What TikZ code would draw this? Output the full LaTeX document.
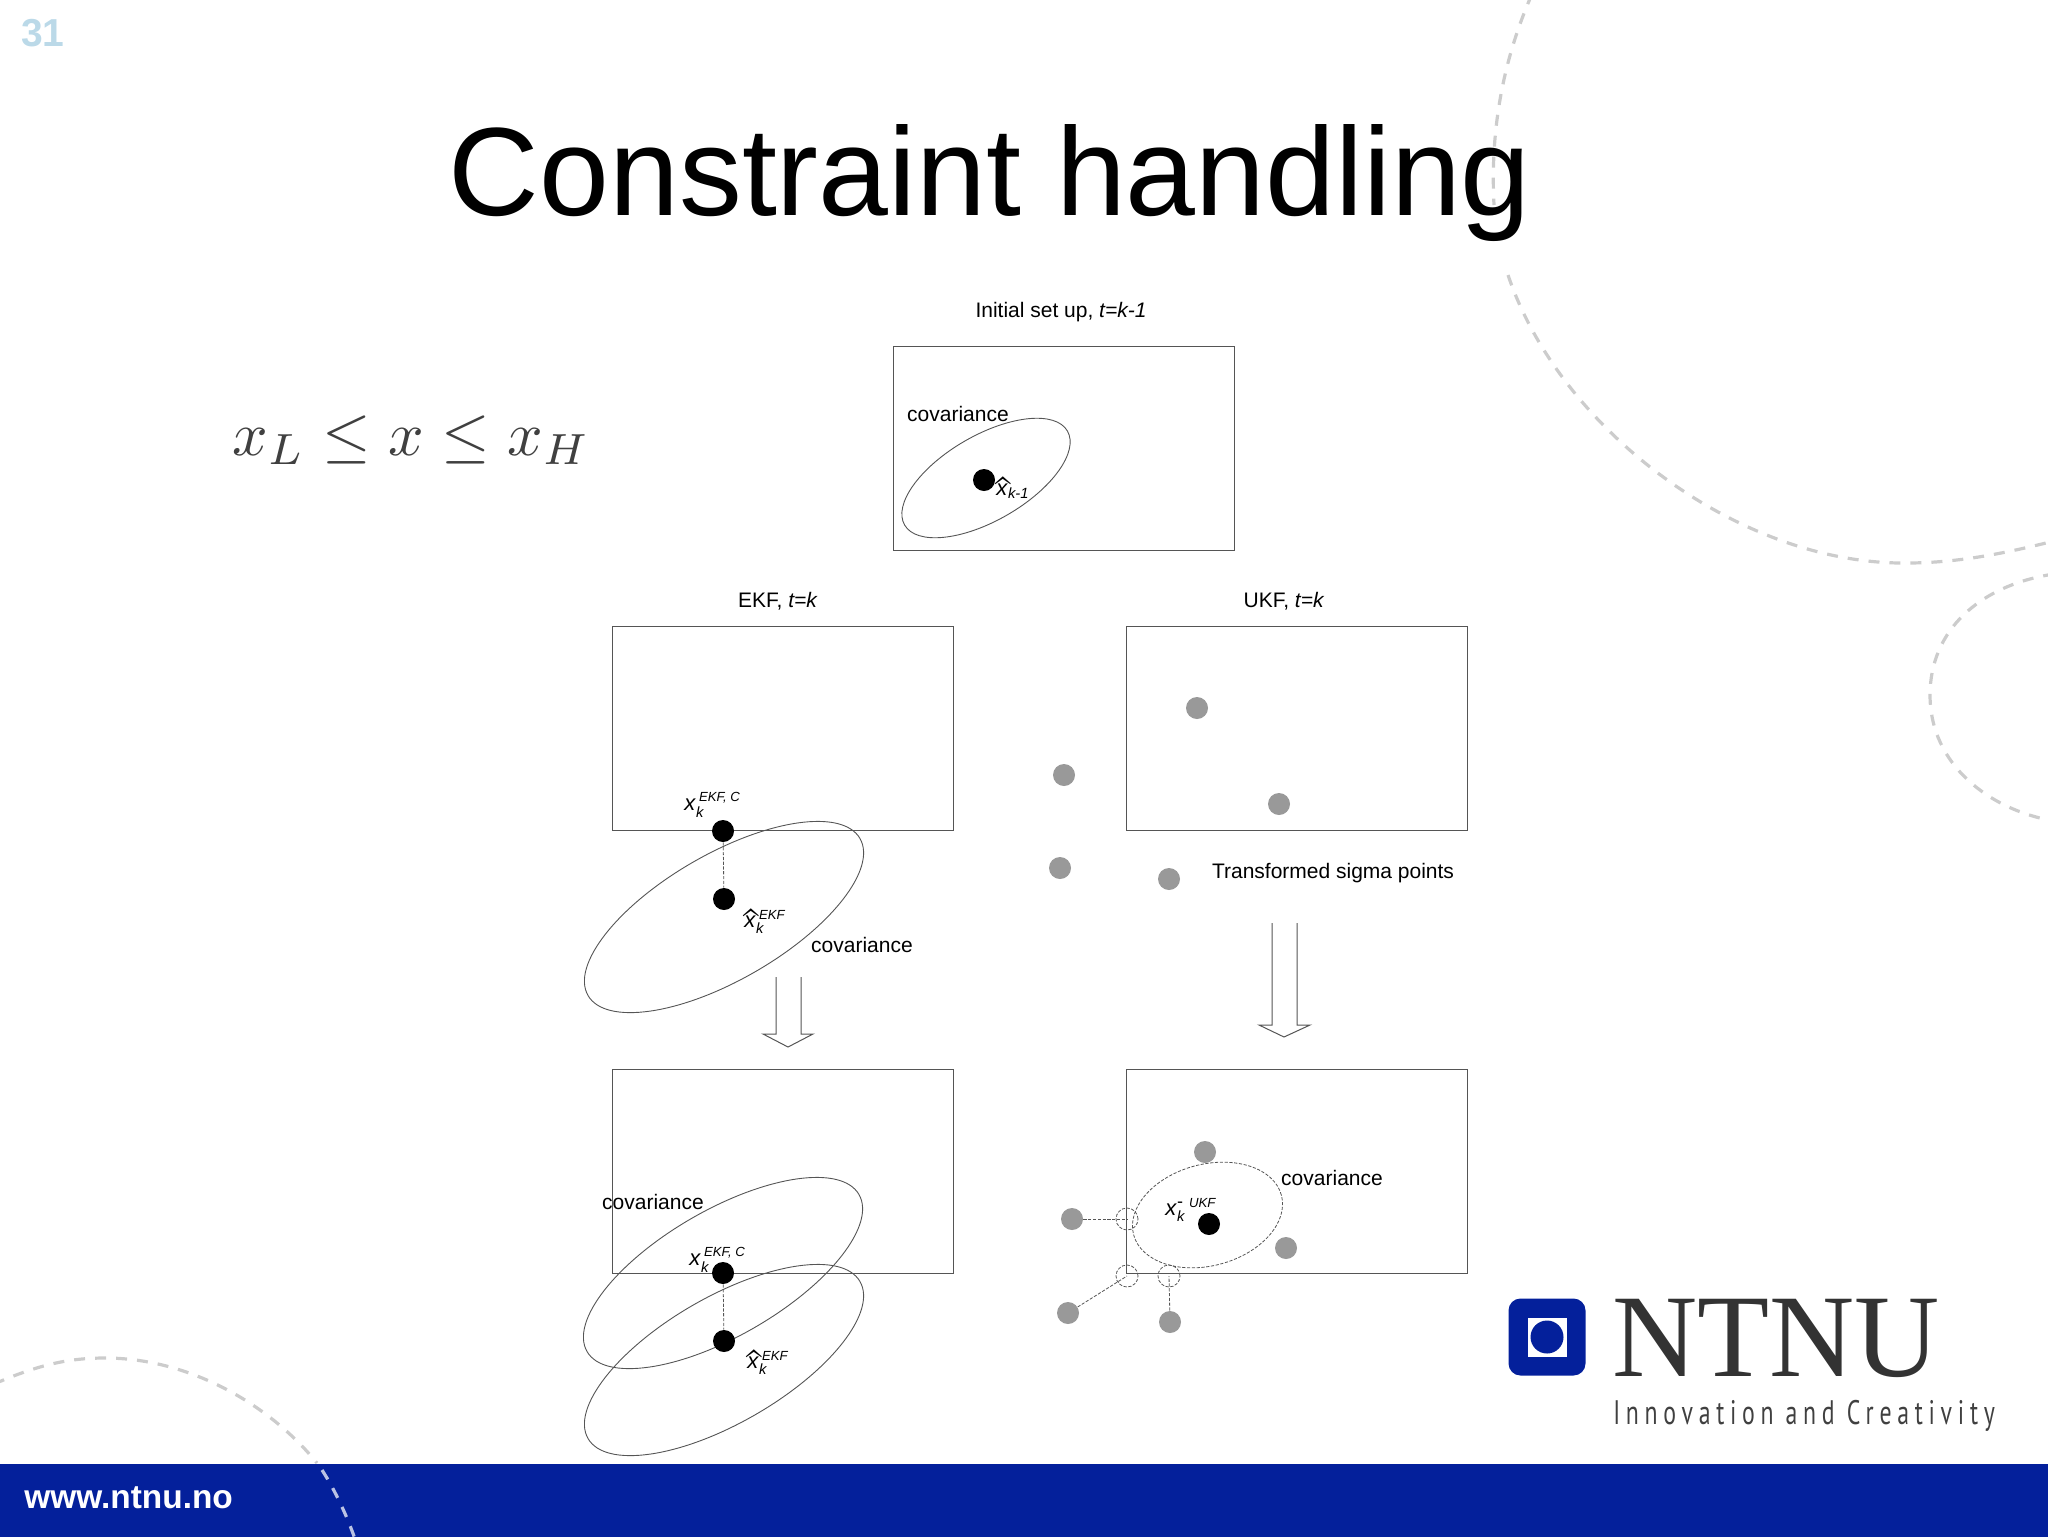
\documentclass[tikz,border=0pt]{standalone}
\usepackage{amsmath}
\usepackage{fontspec}
\setmainfont{Liberation Sans}
\newfontfamily\sloganfont[LetterSpace=24]{PT Sans}
\newfontfamily\logofont{Liberation Serif}
\usepackage{xcolor}
\usepackage{tikz}
\usetikzlibrary{shapes.geometric}

\definecolor{ntnublue}{HTML}{04209B}
\definecolor{boxgray}{HTML}{555555}
\definecolor{pointgray}{HTML}{999999}
\definecolor{swirlgray}{HTML}{CCCCCC}
\definecolor{swirlblue}{HTML}{BAC2E4}
\definecolor{numberblue}{HTML}{BBD9E8}

\newcommand{\subtxt}[1]{\hbox{\fontsize{7.4}{8}\selectfont\textit{#1}}}
\newcommand{\suptxt}[1]{\hbox{\kern1.5pt\fontsize{6.6}{7}\selectfont\textit{#1}}}
\newcommand{\symx}{\hbox{\fontsize{11}{12}\selectfont\textit{x}}}
\newcommand{\symxhat}{\hbox{\rlap{\smash{\raisebox{-7pt}{\kern-0.8pt\scalebox{1.4}[2.2]{$\widehat{\hphantom{x}}$}}}}\symx}}

\begin{document}
\begin{tikzpicture}[
    x=0.5pt,
    y=-0.5pt,
    framebox/.style={
        draw=boxgray,
        line width=0.5pt,
        minimum width=170.5pt,
        minimum height=102pt,
        inner sep=0pt
    },
    covshape/.style={
        draw=boxgray,
        line width=0.45pt,
        ellipse,
        inner sep=0pt,
        rotate=30
    },
    smallcov/.style={covshape, minimum width=94pt, minimum height=42.6pt},
    bigcov/.style={covshape, minimum width=157pt, minimum height=63pt},
    statedot/.style={circle, fill=black, inner sep=0pt, minimum size=11pt},
    sigmadot/.style={circle, fill=pointgray, inner sep=0pt, minimum size=11pt},
    fine/.style={dash pattern=on 1.6pt off 0.8pt, line width=0.4pt},
    ghostdot/.style={circle, draw=boxgray, fine, inner sep=0pt, minimum size=11pt},
    label/.style={anchor=base, font=\fontsize{10.5}{12}\selectfont, inner sep=0pt},
    symbol/.style={anchor=base west, inner sep=0pt},
    swirl/.style={line width=1.6pt, dash pattern=on 5.5pt off 5pt},
    projline/.style={boxgray, fine},
    hollow/.style={draw=boxgray, line width=0.5pt}
]
\useasboundingbox (0,0) rectangle (2048,1537);

% background
\draw[swirl, swirlgray] (1532,-6) .. controls (1503,60) and (1490,130) .. (1494,205);
\draw[swirl, swirlgray] (1508,275) .. controls (1560,430) and (1740,565) .. (1907,563) .. controls (1960,563) and (2010,552) .. (2054,541);
\draw[swirl, swirlgray] (2054,574) .. controls (1980,585) and (1930,630) .. (1930,695) .. controls (1930,765) and (1990,810) .. (2054,821);
\draw[swirl, swirlgray] (-6,1384) .. controls (40,1364) and (70,1358) .. (105,1358) .. controls (190,1358) and (270,1405) .. (317,1463);
\fill[ntnublue] (0,1464) rectangle (2048,1537);
\draw[swirl, swirlblue] (322,1470) .. controls (335,1490) and (348,1518) .. (356,1542);

% slide furniture
\node[anchor=base, inner sep=0pt, font=\fontsize{62.8}{70}\selectfont] (title) at (990,215) {Constraint handling};
\node[anchor=center, inner sep=0pt, numberblue, font=\fontsize{19.5}{22}\selectfont\bfseries] (pagenum) at (43,33) {31};
\node[anchor=base west, inner sep=0pt, white, font=\fontsize{16.7}{18}\selectfont\bfseries] (url) at (24,1508) {www.ntnu.no};
\node[scale=3.12, text=black!75, anchor=base west, inner sep=0pt] (bounds) at (231,455) {$x_L \leq x \leq x_H$};

% logo
\node[fill=ntnublue, rounded corners=6pt, minimum size=38.5pt, inner sep=0pt] (logobox) at (1547,1337) {};
\node[fill=white, minimum size=19.5pt, inner sep=0pt] (logohole) at (logobox) {};
\node[circle, fill=ntnublue, minimum size=16.5pt, inner sep=0pt] (logodot) at (logobox) {};
\node[anchor=base west, inner sep=0pt, text=black!80, font=\logofont\fontsize{59}{60}\selectfont] (logoname) at (1612,1376) {NTNU};
\node[anchor=base west, inner sep=0pt, text=black!75, xscale=0.7, font=\sloganfont\fontsize{17}{18}\selectfont] (slogan) at (1613,1424) {Innovation and Creativity};

% the four frames and the initial one
\node[framebox] (initbox) at (1064,448) {};
\node[framebox] (ekftop) at (783,728.5) {};
\node[framebox] (ukftop) at (1297,728.5) {};
\node[framebox] (ekfbot) at (783,1171.5) {};
\node[framebox] (ukfbot) at (1297,1171.5) {};

% initial
\node[label] (inittitle) at (1061,317) {Initial set up, \textit{t=k-1}};
\node[smallcov] (initcov) at (986,478) {};
\node[label] (initcovlabel) at (958,421) {covariance};
\node[statedot] (initdot) at (984,480) {};
\node[symbol] (initsym) at (996,495) {$\symxhat_{\subtxt{k-1}}$};

% EKF, prediction
\node[label] (ekftitle) at (778,607) {EKF, \textit{t=k}};
\node[bigcov] (ekfcov) at (724,917) {};
\node[statedot] (ekfclip) at (723,831) {};
\node[statedot] (ekfmean) at (724,899) {};
\draw[projline] (ekfclip) -- (ekfmean);
\node[symbol] (ekfclipsym) at (684,810) {$\symx_{\subtxt{k}}^{\suptxt{EKF, C}}$};
\node[symbol] (ekfmeansym) at (744,927) {$\symxhat_{\subtxt{k}}^{\suptxt{EKF}}$};
\node[label] (ekfcovlabel) at (862,952) {covariance};

% EKF, result
\node[bigcov] (ekfcovnew) at (723,1273) {};
\node[bigcov] (ekfcovold) at (724,1360) {};
\node[statedot] (resclip) at (723,1273) {};
\node[statedot] (resmean) at (724,1341) {};
\draw[projline] (resclip) -- (resmean);
\node[symbol] (resclipsym) at (689,1265) {$\symx_{\subtxt{k}}^{\suptxt{EKF, C}}$};
\node[symbol] (resmeansym) at (747,1368) {$\symxhat_{\subtxt{k}}^{\suptxt{EKF}}$};
\node[label] (rescovlabel) at (653,1209) {covariance};

% UKF, sigma points
\node[label] (ukftitle) at (1284,607) {UKF, \textit{t=k}};
\node[sigmadot] (siga) at (1197,708) {};
\node[sigmadot] (sigb) at (1279,804) {};
\node[sigmadot] (sigc) at (1064,775) {};
\node[sigmadot] (sigd) at (1060,868) {};
\node[sigmadot] (sige) at (1169,879) {};
\node[label] (sigmalabel) at (1333,878) {Transformed sigma points};

% UKF, result
\node[draw=boxgray, fine, ellipse, inner sep=0pt, rotate=15, minimum width=76.5pt, minimum height=50.7pt] (ukfcov) at (1207.5,1215) {};
\node[statedot] (ukfmean) at (1209,1224) {};
\node[symbol] (ukfsym) at (1165,1215) {$\symx^{\hbox{\fontsize{9}{9}\selectfont -}}_{\subtxt{k}}{}^{\suptxt{UKF}}$};
\node[label] (ukfcovlabel) at (1332,1185) {covariance};
\node[sigmadot] (pta) at (1205,1152) {};
\node[sigmadot] (ptb) at (1286,1248) {};
\node[sigmadot] (ptc) at (1072,1219) {};
\node[sigmadot] (ptd) at (1068,1313) {};
\node[sigmadot] (pte) at (1170,1322) {};
\node[ghostdot] (clipc) at (1127,1219) {};
\node[ghostdot] (clipd) at (1127,1276) {};
\node[ghostdot] (clipe) at (1169,1276) {};
\draw[projline] (ptc) -- (clipc.center);
\draw[projline] (ptd) -- (clipd.center);
\draw[projline] (pte) -- (clipe.center);

% hollow arrows
\draw[hollow] (776,977) -- (776,1034) -- (763,1034) -- (788,1047) -- (813,1034) -- (801,1034) -- (801,977);
\draw[hollow] (1272,923) -- (1272,1025) -- (1259,1025) -- (1284,1037) -- (1310,1025) -- (1297,1025) -- (1297,923);
\end{tikzpicture}
\end{document}
